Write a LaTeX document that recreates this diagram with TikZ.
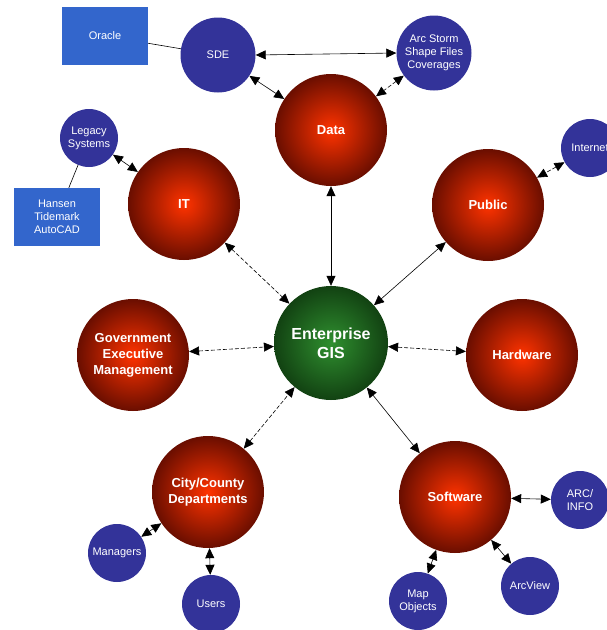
\documentclass[tikz,border=0pt]{standalone}
\usepackage{fontspec}
\setmainfont{Liberation Sans}
\usetikzlibrary{arrows.meta, shapes.geometric}
\definecolor{redin}{HTML}{FF3300}
\definecolor{redout}{HTML}{6A0E00}
\definecolor{grnin}{HTML}{2F8F2F}
\definecolor{grnout}{HTML}{124212}
\definecolor{satblu}{HTML}{333399}
\definecolor{boxblu}{HTML}{3366CC}
\tikzset{
  ball/.style  = {circle, inner sep=0pt, minimum size=112pt,
                  shading=radial, inner color=redin, outer color=redout,
                  font=\fontsize{13}{16}\selectfont\bfseries, align=center, text=white},
  hub/.style   = {ball, inner color=grnin, outer color=grnout,
                  minimum size=114pt, font=\fontsize{16}{19}\selectfont\bfseries},
  sat/.style   = {circle, inner sep=0pt, minimum size=58pt, fill=satblu,
                  font=\fontsize{11}{13}\selectfont, align=center, text=white},
  bigsat/.style= {sat, minimum size=75pt},
  box/.style   = {rectangle, fill=boxblu, minimum width=86pt, minimum height=58pt,
                  font=\fontsize{11}{13}\selectfont, align=center, text=white},
  link/.style  = {{Triangle[length=10pt,width=9pt]}-{Triangle[length=10pt,width=9pt]},
                  line width=0.6pt},
  dlink/.style = {link, dash pattern=on 4pt off 2pt},
  plain/.style = {line width=0.6pt},
}
\begin{document}
\begin{tikzpicture}[x=1pt, y=-1pt]
  \useasboundingbox (0,0) rectangle (607,630);

  % -- hub and main balls
  \node[hub]  (gis)  at (331,343) {Enterprise\\GIS};
  \node[ball] (data) at (331,130) {Data};
  \node[ball] (it)   at (184,204) {IT};
  \node[ball] (pub)  at (488,205) {Public};
  \node[ball] (gov)  at (133,355) {Government\\Executive\\Management};
  \node[ball] (hw)   at (522,355) {Hardware};
  \node[ball] (city) at (208,492) {City/County\\Departments};
  \node[ball] (sw)   at (455,497) {Software};

  % -- satellites
  \node[bigsat] (sde)  at (218,55)  {SDE};
  \node[bigsat] (arc)  at (434,53)  {Arc Storm\\Shape Files\\Coverages};
  \node[sat]    (leg)  at (89,138)  {Legacy\\Systems};
  \node[sat]    (net)  at (590,148) {Internet};
  \node[sat]    (mgr)  at (117,553) {Managers};
  \node[sat]    (usr)  at (211,604) {Users};
  \node[sat]    (info) at (580,500) {ARC/\\INFO};
  \node[sat]    (av)   at (530,586) {ArcView};
  \node[sat]    (mo)   at (418,601) {Map\\Objects};

  % -- boxes
  \node[box] (ora) at (105,36)  {Oracle};
  \node[box] (han) at (57,217)  {Hansen\\Tidemark\\AutoCAD};

  % -- plain lines
  \draw[plain] (ora) -- (sde);
  \draw[plain] (leg) -- (han);

  % -- links to hub
  \draw[link]  (data) -- (gis);
  \draw[dlink] (it)   -- (gis);
  \draw[link]  (pub)  -- (gis);
  \draw[dlink] (gov)  -- (gis);
  \draw[dlink] (hw)   -- (gis);
  \draw[dlink] (city) -- (gis);
  \draw[link]  (sw)   -- (gis);

  % -- satellite links
  \draw[link]  (sde.east) -- (arc.west);
  \draw[link]  (sde)  -- (data);
  \draw[dlink] (arc)  -- (data);
  \draw[link]  (leg)  -- (it);
  \draw[dlink] (net)  -- (pub);
  \draw[dlink] (mgr)  -- (city);
  \draw[link]  (usr)  -- (city);
  \draw[link]  (info) -- (sw);
  \draw[link]  (av)   -- (sw);
  \draw[link]  (mo)   -- (sw);
\end{tikzpicture}
\end{document}
